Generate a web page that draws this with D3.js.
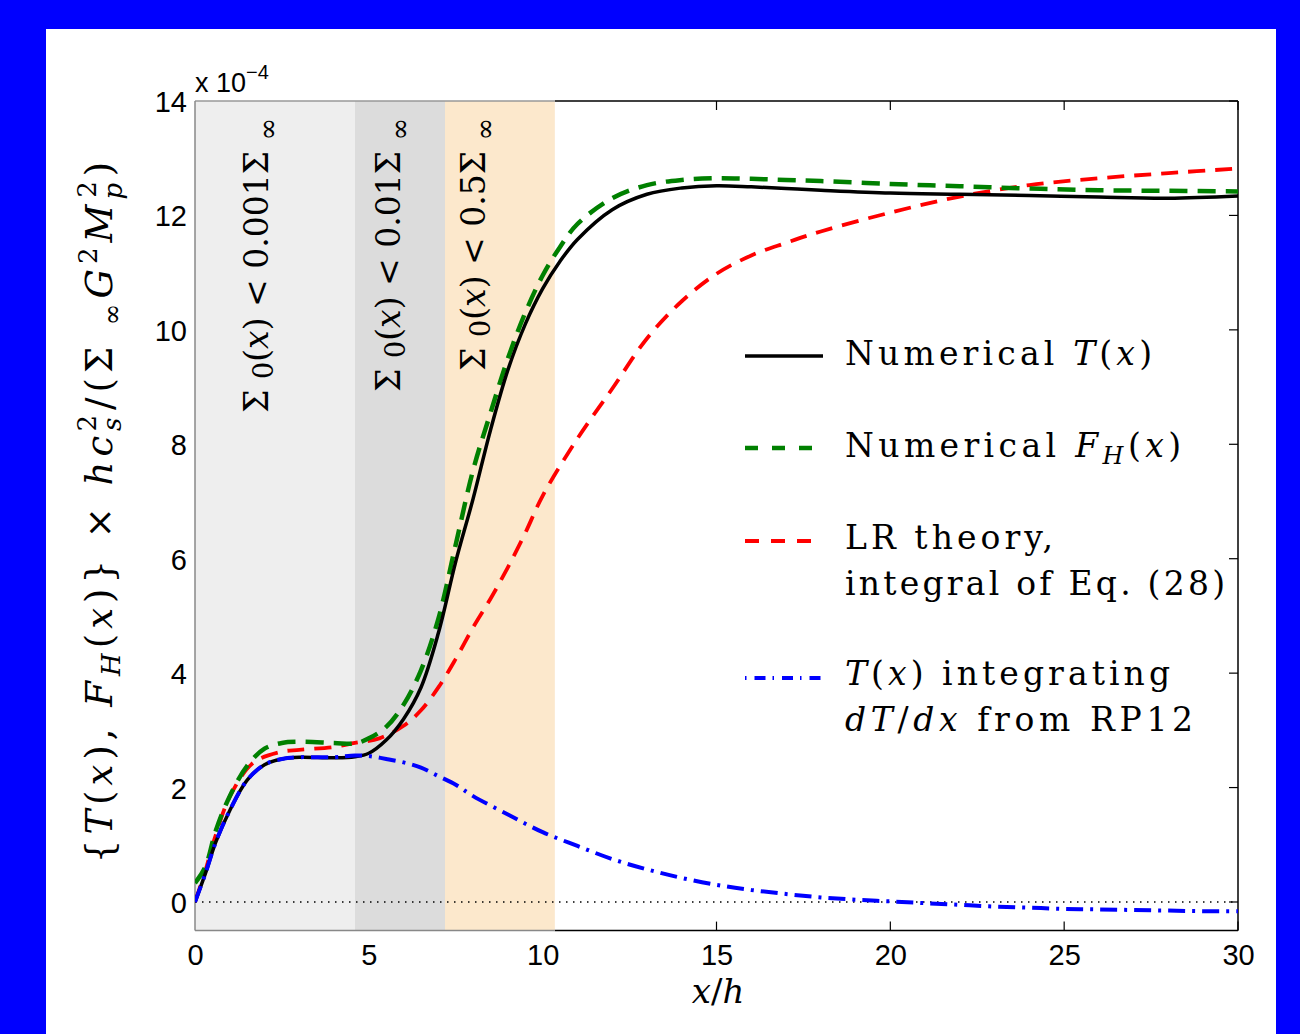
<!DOCTYPE html>
<html><head><meta charset="utf-8">
<script src="https://cdn.jsdelivr.net/npm/d3@7"></script>
<style>
html,body{margin:0;padding:0;background:#0000ff;}
svg{display:block;}
</style></head>
<body>
<svg id="chart" width="1300" height="1034"></svg>
<script>
// ---- data (values in units of 1e-4) ----
const xT = [0,0.3,0.6,1.0,1.5,2.0,2.5,3.0,4.0,4.6,5.0,5.5,6.0,6.5,7.0,7.5,8.0,8.5,9.0,9.5,10.0,10.5,11.0,12.0,13.0,14.0,15.0,16.0,17.0,18,20,22,24,26,28,30];
const numT = [0,0.5,1.05,1.6,2.13,2.4,2.5,2.53,2.52,2.54,2.6,2.83,3.2,3.75,4.7,5.95,7.05,8.25,9.3,10.1,10.72,11.2,11.58,12.1,12.37,12.48,12.52,12.5,12.47,12.44,12.39,12.37,12.35,12.32,12.30,12.34];
const xF = [0,0.3,0.6,1.0,1.5,2.0,2.5,3.0,4.0,4.6,5.0,5.5,6.0,6.5,7.0,7.5,8.0,8.5,9.0,9.5,10.0,10.5,11.0,12.0,13.0,14.0,15.0,16.0,17.0,18,20,22,24,26,28,30];
const numFH = [0.33,0.62,1.25,1.85,2.38,2.68,2.78,2.8,2.78,2.77,2.86,3.06,3.45,4.05,4.95,6.25,7.55,8.55,9.5,10.3,10.95,11.45,11.85,12.3,12.53,12.62,12.65,12.64,12.62,12.6,12.55,12.51,12.47,12.44,12.43,12.42];
const xLR = [0,0.3,0.55,1.0,1.67,2.44,3.0,4.0,4.6,5.3,6.0,6.5,7.0,7.5,8.0,8.5,9.0,9.5,10.0,11.0,12.0,13.0,14.0,15.0,16.0,17.0,18.0,20.0,22.0,24.0,26.0,28.0,30.0];
const lrTheory = [0,0.55,1.08,1.84,2.43,2.62,2.66,2.71,2.78,2.86,3.08,3.35,3.75,4.25,4.8,5.3,5.85,6.45,7.1,8.1,8.97,9.85,10.5,10.98,11.3,11.52,11.72,12.05,12.33,12.53,12.65,12.74,12.82];
const xRP = [0,0.3,0.6,1.0,1.5,2.0,2.5,3.0,4.0,4.6,5.0,5.5,6.0,6.5,7.0,7.5,8.0,9.0,10.0,11.0,12.0,13.0,14.0,15.0,16.0,17.0,18.0,19,20,21,22,23,24,25,26,27,28,29,30];
const rp12 = [0,0.5,1.05,1.6,2.13,2.4,2.5,2.53,2.53,2.56,2.55,2.5,2.44,2.35,2.2,2.05,1.85,1.53,1.22,0.98,0.75,0.57,0.42,0.3,0.21,0.14,0.08,0.04,0.01,-0.02,-0.05,-0.08,-0.1,-0.12,-0.13,-0.14,-0.15,-0.16,-0.16];
const regionEdges = [0, 4.6, 7.19, 10.35];
const regionColors = ["#eeeeee", "#dcdcdc", "#fce8cc"];
const regionLabels = ["0.001", "0.01", "0.5"];
const xTicks = [0,5,10,15,20,25,30];
const yTicks = [0,2,4,6,8,10,12,14];

// ---- layout ----
const svg = d3.select("#chart");
const L = 195, R = 1238, T = 101, B = 930.6;
const x = d3.scaleLinear().domain([0,30]).range([L,R]);
const y = d3.scaleLinear().domain([-0.5,14]).range([B,T]);

svg.append("rect").attr("x",46).attr("y",29).attr("width",1230).attr("height",1010).attr("fill","#fff");

svg.append("defs").append("clipPath").attr("id","clip")
  .append("rect").attr("x",L).attr("y",T).attr("width",R-L).attr("height",B-T);

const plot = svg.append("g");
for (let i=0;i<3;i++){
  plot.append("rect")
    .attr("x", x(regionEdges[i])).attr("y", T)
    .attr("width", x(regionEdges[i+1]) - x(regionEdges[i]))
    .attr("height", B - T)
    .attr("fill", regionColors[i]);
}

// axes box
const box = svg.append("g").attr("fill","none");
const xe = x(regionEdges[3]);
box.append("line").attr("x1",xe).attr("x2",R).attr("y1",T).attr("y2",T).attr("stroke","#000").attr("stroke-width",1.5);
box.append("line").attr("x1",L).attr("x2",xe).attr("y1",T).attr("y2",T).attr("stroke","#999").attr("stroke-width",1.5);
box.append("line").attr("x1",xe).attr("x2",R).attr("y1",B).attr("y2",B).attr("stroke","#000").attr("stroke-width",1.5);
box.append("line").attr("x1",L).attr("x2",xe).attr("y1",B).attr("y2",B).attr("stroke","#888").attr("stroke-width",1.5);
box.append("line").attr("x1",L).attr("x2",L).attr("y1",T).attr("y2",B).attr("stroke","#888").attr("stroke-width",1.5);
box.append("line").attr("x1",R).attr("x2",R).attr("y1",T).attr("y2",B).attr("stroke","#000").attr("stroke-width",1.5);

const tk = 9;
xTicks.forEach(v=>{
  if (v <= regionEdges[3]) return;
  box.append("line").attr("x1",x(v)).attr("x2",x(v)).attr("y1",B).attr("y2",B-tk).attr("stroke","#000").attr("stroke-width",1.2);
  box.append("line").attr("x1",x(v)).attr("x2",x(v)).attr("y1",T).attr("y2",T+tk).attr("stroke","#000").attr("stroke-width",1.2);
});
yTicks.forEach(v=>{
  box.append("line").attr("x1",R).attr("x2",R-tk).attr("y1",y(v)).attr("y2",y(v)).attr("stroke","#000").attr("stroke-width",1.2);
});

// tick labels
const sans = "'Liberation Sans', Arial, Helvetica, sans-serif";
const xAxis = d3.axisBottom(x).tickValues(xTicks).tickSize(0).tickPadding(0).tickFormat(d3.format("d"));
const gx = svg.append("g").attr("transform",`translate(0,${B})`).call(xAxis);
gx.select(".domain").remove();
gx.selectAll("text").attr("font-family",sans).attr("font-size",29).attr("fill","#000").attr("dy",null).attr("y",34);

const yAxis = d3.axisLeft(y).tickValues(yTicks).tickSize(0).tickPadding(0).tickFormat(d3.format("d"));
const gy = svg.append("g").attr("transform",`translate(${L-8},0)`).call(yAxis);
gy.select(".domain").remove();
gy.selectAll("text").attr("font-family",sans).attr("font-size",29).attr("fill","#000").attr("dy","0.36em").attr("x",0);

const expT = svg.append("text").attr("x",195).attr("y",92).attr("font-family",sans).attr("font-size",27).attr("fill","#000");
expT.append("tspan").text("x 10");
expT.append("tspan").attr("dy",-13).attr("font-size",20).text("\u22124");

// zero dotted line
svg.append("line").attr("x1",L).attr("x2",R).attr("y1",y(0)).attr("y2",y(0))
  .attr("stroke","#000").attr("stroke-width",1.5).attr("stroke-dasharray","1.5,5.5");

// region labels
const serif = "'DejaVu Serif', serif";
const labelBase = [268, 400, 485];
regionLabels.forEach((lab,i)=>{
  const t = svg.append("text")
    .attr("transform",`translate(${labelBase[i]},118) rotate(-90)`)
    .attr("text-anchor","end").attr("font-family",serif).attr("font-size",33).attr("font-weight",300)
    .attr("fill","#000");
  t.append("tspan").text("\u03A3 ");
  t.append("tspan").attr("font-size",27).attr("dy",5).text("0");
  t.append("tspan").attr("dy",-5).text("(");
  t.append("tspan").attr("font-style","italic").text("x");
  t.append("tspan").text(")  <  " + lab + "\u03A3 ");
  t.append("tspan").attr("font-size",27).attr("dy",9).text("\u221E");
});

// curves
const lineGen = (xs) => d3.line().x((d,i)=>x(xs[i])).y(d=>y(d)).curve(d3.curveCatmullRom.alpha(0.5));
const curves = svg.append("g").attr("clip-path","url(#clip)").attr("fill","none");
curves.append("path").datum(lrTheory).attr("d",lineGen(xLR))
  .attr("stroke","#ff0000").attr("stroke-width",3.8).attr("stroke-dasharray","17,10");
curves.append("path").datum(numFH).attr("d",lineGen(xF))
  .attr("stroke","#008000").attr("stroke-width",4.5).attr("stroke-dasharray","18,10");
curves.append("path").datum(numT).attr("d",lineGen(xT))
  .attr("stroke","#000").attr("stroke-width",3.5);
curves.append("path").datum(rp12).attr("d",lineGen(xRP))
  .attr("stroke","#0000ff").attr("stroke-width",4).attr("stroke-dasharray","17,7,3,7");

// legend
const lg = svg.append("g");
const lx1 = 745, lx2 = 823, tx = 845;
const legendRows = [
  {ly:356, color:"#000", w:3.5, dash:null},
  {ly:448, color:"#008000", w:4.5, dash:"13,14"},
  {ly:541, color:"#ff0000", w:3.8, dash:"14,12"},
  {ly:678, color:"#0000ff", w:4, dash:"1.5,8,11,7"}
];
legendRows.forEach(r=>{
  const l = lg.append("line").attr("x1",lx1).attr("x2",lx2).attr("y1",r.ly).attr("y2",r.ly)
    .attr("stroke",r.color).attr("stroke-width",r.w);
  if (r.dash) l.attr("stroke-dasharray",r.dash);
});
function ltext(yy, len){
  return lg.append("text").attr("x",tx).attr("y",yy).attr("font-family",serif).attr("font-size",33)
    .attr("font-weight",300).attr("fill","#000").attr("textLength",len).attr("lengthAdjust","spacing");
}
let t1 = ltext(365, 307);
t1.append("tspan").text("Numerical ");
t1.append("tspan").attr("font-style","italic").text("T");
t1.append("tspan").text("(");
t1.append("tspan").attr("font-style","italic").text("x");
t1.append("tspan").text(")");
let t2 = ltext(457, 336);
t2.append("tspan").text("Numerical ");
t2.append("tspan").attr("font-style","italic").text("F");
t2.append("tspan").attr("font-style","italic").attr("font-size",24).attr("dy",7).text("H");
t2.append("tspan").attr("dy",-7).text("(");
t2.append("tspan").attr("font-style","italic").text("x");
t2.append("tspan").text(")");
ltext(549, 208).text("LR theory,");
ltext(595, 380).text("integral of Eq. (28)");
let t5 = ltext(685, 325);
t5.append("tspan").attr("font-style","italic").text("T");
t5.append("tspan").text("(");
t5.append("tspan").attr("font-style","italic").text("x");
t5.append("tspan").text(") integrating");
let t6 = ltext(731, 348);
t6.append("tspan").attr("font-style","italic").text("dT");
t6.append("tspan").text("/");
t6.append("tspan").attr("font-style","italic").text("dx");
t6.append("tspan").text(" from RP12");

// x label
const xl = svg.append("text").attr("x",718).attr("y",1003).attr("text-anchor","middle")
  .attr("font-family",serif).attr("font-size",34).attr("font-weight",300).attr("fill","#000");
xl.append("tspan").attr("font-style","italic").text("x");
xl.append("tspan").text("/");
xl.append("tspan").attr("font-style","italic").text("h");

// y label
const yl = svg.append("text").attr("transform","translate(112,510) rotate(-90)").attr("text-anchor","middle")
  .attr("font-family",serif).attr("font-size",37).attr("font-weight",300).attr("fill","#000").attr("letter-spacing",5);
yl.append("tspan").text("{");
yl.append("tspan").attr("font-style","italic").text("T");
yl.append("tspan").text("(");
yl.append("tspan").attr("font-style","italic").text("x");
yl.append("tspan").text("), ");
yl.append("tspan").attr("font-style","italic").text("F");
yl.append("tspan").attr("font-style","italic").attr("font-size",26).attr("dy",8).text("H");
yl.append("tspan").attr("dy",-8).text("(");
yl.append("tspan").attr("font-style","italic").text("x");
yl.append("tspan").text(")} \u00D7 ");
yl.append("tspan").attr("font-style","italic").text("hc");
yl.append("tspan").attr("font-style","italic").attr("font-size",26).attr("dy",9).text("s");
yl.append("tspan").attr("font-size",26).attr("dx",-19).attr("dy",-25).text("2");
yl.append("tspan").attr("dy",16).text("/(\u03A3 ");
yl.append("tspan").attr("font-size",26).attr("dy",9).text("\u221E");
yl.append("tspan").attr("font-style","italic").attr("dy",-9).text("G");
yl.append("tspan").attr("font-size",26).attr("dy",-15).text("2");
yl.append("tspan").attr("font-style","italic").attr("dy",15).text("M");
yl.append("tspan").attr("font-style","italic").attr("font-size",26).attr("dy",10).text("p");
yl.append("tspan").attr("font-size",26).attr("dx",-20).attr("dy",-26).text("2");
yl.append("tspan").attr("dy",16).text(")");
</script>
</body></html>
